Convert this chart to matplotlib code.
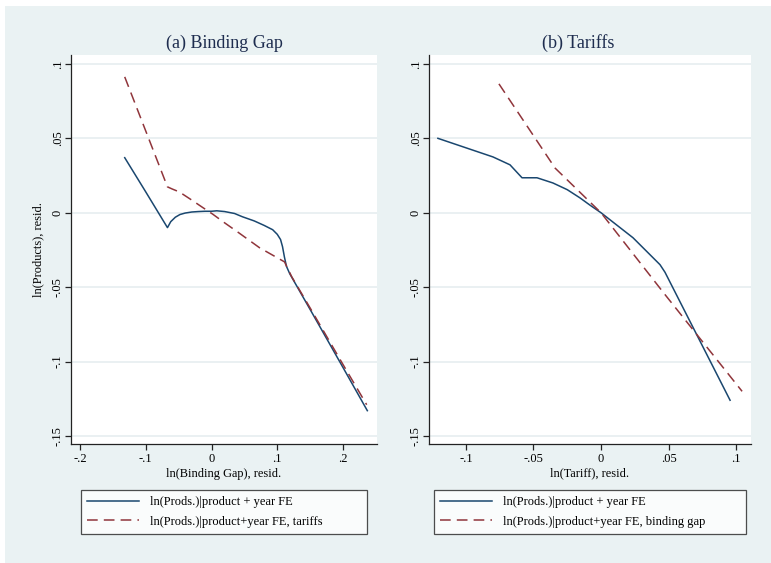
import matplotlib
matplotlib.use("Agg")
import matplotlib.pyplot as plt
from matplotlib.patches import Rectangle
from matplotlib.lines import Line2D

# ---------------- data ----------------
# Panel (a): binding gap
a_blue_x = [-0.132, -0.100, -0.067, -0.062, -0.055, -0.048, -0.040, -0.030, -0.020, -0.010,
            0.000, 0.008, 0.020, 0.035, 0.047, 0.065, 0.080, 0.093, 0.100, 0.105,
            0.108, 0.111, 0.114, 0.119, 0.150, 0.200, 0.237]
a_blue_y = [0.037, 0.014, -0.010, -0.006, -0.003, -0.0012, -0.0002, 0.0005, 0.0008, 0.001,
            0.001, 0.0013, 0.0008, -0.0005, -0.0027, -0.0055, -0.0085, -0.0114, -0.0145, -0.018,
            -0.0228, -0.030, -0.036, -0.041, -0.065, -0.104, -0.133]
a_red_x = [-0.132, -0.067, -0.060, -0.049, -0.030, -0.015, 0.002, 0.020, 0.040, 0.073,
           0.111, 0.122, 0.150, 0.200, 0.236]
a_red_y = [0.0913, 0.0174, 0.016, 0.014, 0.0085, 0.004, -0.001, -0.0068, -0.013, -0.0235,
           -0.033, -0.043, -0.064, -0.102, -0.129]

# Panel (b): tariffs
b_blue_x = [-0.1208, -0.080, -0.0674, -0.0585, -0.0474, -0.0356, -0.025, -0.0156, -0.008, 0.0,
            0.0237, 0.0437, 0.0474, 0.0956]
b_blue_y = [0.050, 0.0375, 0.0322, 0.0235, 0.0235, 0.020, 0.0155, 0.010, 0.005, 0.0,
            -0.0168, -0.0349, -0.040, -0.126]
b_red_x = [-0.0756, -0.034, 0.0, 0.0474, 0.1045]
b_red_y = [0.0866, 0.030, 0.0, -0.055, -0.120]

y_ticks = [0.1, 0.05, 0.0, -0.05, -0.1, -0.15]
y_ticklabels = [".1", ".05", "0", "-.05", "-.1", "-.15"]
a_xticks = [-0.2, -0.1, 0.0, 0.1, 0.2]
a_xticklabels = ["-.2", "-.1", "0", ".1", ".2"]
b_xticks = [-0.1, -0.05, 0.0, 0.05, 0.1]
b_xticklabels = ["-.1", "-.05", "0", ".05", ".1"]

titles = ["(a) Binding Gap", "(b) Tariffs"]
xlabels = ["ln(Binding Gap), resid.", "ln(Tariff), resid."]
ylabel = "ln(Products), resid."
leg_blue = "ln(Prods.)|product + year FE"
leg_red = ["ln(Prods.)|product+year FE, tariffs", "ln(Prods.)|product+year FE, binding gap"]

# ---------------- style ----------------
W, H = 771, 563
BG = "#eaf2f3"
GRID = "#e6eef0"
NAVY = "#1a476f"
MAROON = "#90353b"
TITLEC = "#1e2d4f"
plt.rcParams['font.family'] = ['Liberation Serif', 'DejaVu Serif']

fig = plt.figure(figsize=(W / 100, H / 100), dpi=100)
fig.patch.set_facecolor("white")
fig.patches.append(Rectangle((5 / W, 0), 1 - 5 / W, 1 - 6 / H, transform=fig.transFigure,
                             facecolor=BG, edgecolor="none", zorder=-10))

def fx(px):
    return px / W

def fy(py):
    return 1 - py / H

panels = [
    dict(x0=71, x1=377, xlim=(-0.2137, 0.2517), xt=a_xticks, xtl=a_xticklabels,
         bx=a_blue_x, by=a_blue_y, rx=a_red_x, ry=a_red_y, leg=(81, 367), tx=224),
    dict(x0=429, x1=751, xlim=(-0.1274, 0.1111), xt=b_xticks, xtl=b_xticklabels,
         bx=b_blue_x, by=b_blue_y, rx=b_red_x, ry=b_red_y, leg=(434, 746), tx=578),
]
top, bot = 55, 444

for i, p in enumerate(panels):
    ax = fig.add_axes([fx(p["x0"]), fy(bot), (p["x1"] - p["x0"]) / W, (bot - top) / H])
    ax.set_facecolor("white")
    ax.set_xlim(*p["xlim"])
    ax.set_ylim(-0.1554, 0.106)
    for s in ["top", "right"]:
        ax.spines[s].set_visible(False)
    for s in ["left", "bottom"]:
        ax.spines[s].set_color("#222222")
        ax.spines[s].set_linewidth(0.9)
    ax.set_yticks(y_ticks)
    ax.set_yticklabels(y_ticklabels, rotation=90, va="center", fontsize=9)
    ax.set_xticks(p["xt"])
    ax.set_xticklabels(p["xtl"], fontsize=9)
    ax.tick_params(direction="out", length=4.3, width=0.9, color="#222222", pad=2.5)
    ax.tick_params(axis="y", pad=1.0)
    for yv in y_ticks:
        ax.axhline(yv, color=GRID, lw=1.2, zorder=0)
    ax.plot(p["bx"], p["by"], color=NAVY, lw=1.1, zorder=3)
    ax.plot(p["rx"], p["ry"], color=MAROON, lw=1.1, dashes=(7, 4), zorder=4)
    ax.set_xlabel(xlabels[i], fontsize=8.9, labelpad=1.5)
    if i == 0:
        ax.set_ylabel(ylabel, fontsize=8.9)
        ax.yaxis.set_label_coords((44 - p["x0"]) / (p["x1"] - p["x0"]), 0.5)
    fig.text(fx(p["tx"]), fy(43), titles[i], ha="center", va="center", fontsize=13, color=TITLEC)

    handles = [Line2D([], [], color=NAVY, lw=1.1),
               Line2D([], [], color=MAROON, lw=1.1, dashes=(7, 4))]
    lx0, lx1 = p["leg"]
    leg = fig.legend(handles, [leg_blue, leg_red[i]],
                     bbox_to_anchor=(fx(lx0), fy(535), (lx1 - lx0) / W, (535 - 489) / H),
                     loc="center left", mode="expand", fontsize=9, frameon=True,
                     fancybox=False, edgecolor="#222222", facecolor="white",
                     handlelength=4.1, handletextpad=0.9, borderaxespad=0,
                     labelspacing=0.6, borderpad=0.5)
    leg.get_frame().set_linewidth(0.9)

fig.savefig("out.png", dpi=100, facecolor=fig.get_facecolor())
